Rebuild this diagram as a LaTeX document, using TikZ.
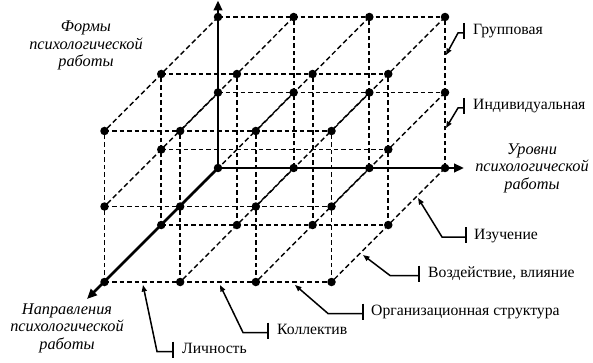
\documentclass[tikz,border=0pt]{standalone}
\usepackage{fontspec}
\setmainfont{Liberation Serif}
\usetikzlibrary{arrows.meta}
\begin{document}
\begin{tikzpicture}[x=1pt,y=-1pt,
  edge/.style={line width=1.9pt, dash pattern=on 4.5pt off 3pt},
  depth/.style={line width=1.4pt, dash pattern=on 5pt off 3pt},
  axis/.style={line width=2.8pt, -{Triangle[length=10pt,width=8.5pt]}},
  dot/.style={circle, fill, inner sep=0pt, minimum size=8.5pt},
  lead/.style={line width=1.5pt, -{Triangle[length=6.5pt,width=5pt]}},
  bar/.style={line width=1.5pt},
  lbl/.style={anchor=base west, font=\fontsize{15.7}{17}\selectfont, inner sep=0pt},
  axlbl/.style={align=center, font=\fontsize{16.3}{17.5}\selectfont\itshape, inner sep=0pt}]
\useasboundingbox (0,0) rectangle (593,363);
% lattice points
\foreach \i in {0,...,3} \foreach \j in {0,1,2} \foreach \k in {0,1,2} {
  \coordinate (p-\i-\j-\k) at ({218+75.67*\i-56.75*\k},{168-75.5*\j+57*\k});
}
% lattice lines
\foreach \j in {0,1,2} \foreach \k in {0,1,2} \draw[edge] (p-0-\j-\k) -- (p-3-\j-\k);
\foreach \i in {0,...,3} \foreach \k in {0,1,2} \draw[edge] (p-\i-0-\k) -- (p-\i-2-\k);
\foreach \i in {0,...,3} \foreach \j in {0,1,2} \draw[depth] (p-\i-\j-0) -- (p-\i-\j-2);
% axes
\coordinate (ytip) at (218,0.5);
\coordinate (xtip) at (464,168);
\coordinate (ztip) at (87,299);
\draw[axis] (p-0-0-0) -- (ytip);
\draw[axis] (p-0-0-0) -- (xtip);
\draw[axis] (p-0-0-0) -- (ztip);
% dots
\foreach \i in {0,...,3} \foreach \j in {0,1,2} \foreach \k in {0,1,2} {
  \pgfmathtruncatemacro\inside{(\i>0)&&(\i<3)&&(\j==1)&&(\k==1)}
  \ifnum\inside=0 \node[dot] (d-\i-\j-\k) at (p-\i-\j-\k) {};\fi
}
% axis labels
\node[axlbl] (forms) at (86,45.5) {Формы\\психологической\\работы};
\node[axlbl] (levels) at (532,168) {Уровни\\психологической\\работы};
\node[axlbl] (dirs) at (67,328) {Направления\\психологической\\работы};
% leader labels
\foreach \nm/\bx/\by/\ex/\tx/\ty in {grp/464/31/458/446/55, ind/464/106/458/446/128,
  izu/466/235/442/418/198, vozd/419/273.5/390/363/255, org/363/311.5/328/295/285,
  kol/268/330.5/243/220/285, lich/173/349.5/157/143/285} {
  \coordinate (\nm-bt) at (\bx,\by-8);
  \coordinate (\nm-bb) at (\bx,\by+8);
  \coordinate (\nm-bm) at (\bx,\by+2);
  \coordinate (\nm-el) at (\ex,\by+2);
  \coordinate (\nm-tip) at (\tx,\ty);
  \draw[bar] (\nm-bt) -- (\nm-bb);
  \draw[lead] (\nm-bm) -- (\nm-el) -- (\nm-tip);
}
\node[lbl] (grpt) at (473,35) {Групповая};
\node[lbl] (indt) at (473,110) {Индивидуальная};
\node[lbl] (izut) at (474,239) {Изучение};
\node[lbl] (vozdt) at (428,277.5) {Воздействие, влияние};
\node[lbl] (orgt) at (371,315.5) {Организационная структура};
\node[lbl] (kolt) at (277,334.5) {Коллектив};
\node[lbl] (licht) at (182,353.5) {Личность};
\end{tikzpicture}
\end{document}
